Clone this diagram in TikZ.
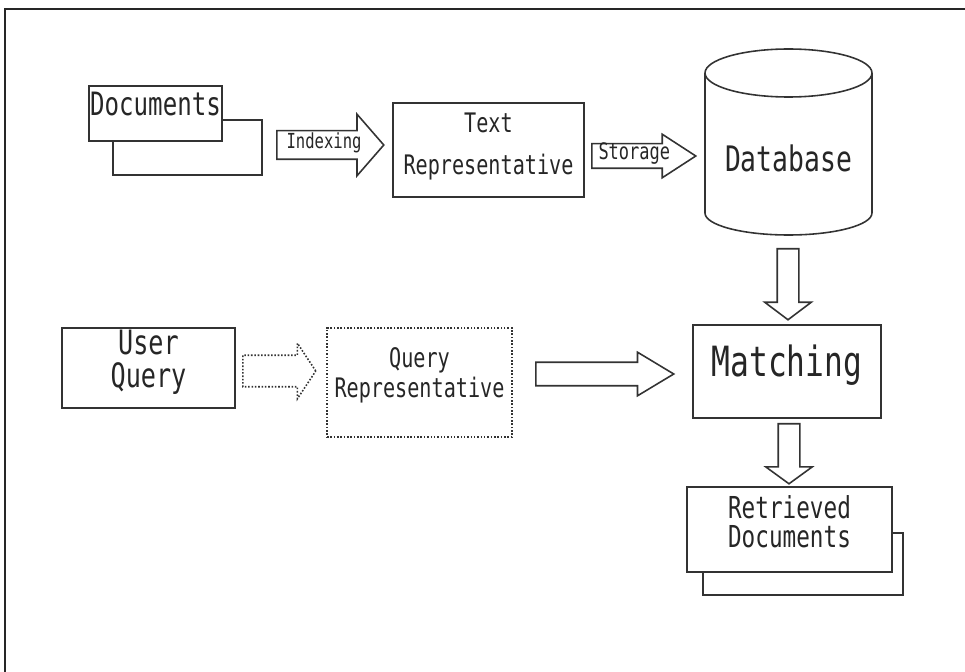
\documentclass[tikz,border=0pt]{standalone}
\usepackage{fontspec}
\newfontfamily\plotfont[FakeStretch=0.75]{DejaVu Sans Mono}
\usetikzlibrary{shapes.arrows}

\begin{document}
\begin{tikzpicture}[x=0.02cm,y=-0.02cm,line width=0.9pt,
  box/.style={draw=black!80,fill=white,rectangle,inner sep=0pt,text=black!85,align=center},
  blockarrow/.style={draw=black!80,fill=white,single arrow,inner xsep=0pt,text=black!85}]
\useasboundingbox (0,0) rectangle (965,672);
\draw[black!85,line width=1.1pt] (5,672)--(5,9)--(965,9);

 % top row
 \node[box,minimum width=2.98cm,minimum height=1.1cm] (docsback) at (187.5,147.5) {};
 \node[box,minimum width=2.66cm,minimum height=1.1cm,text depth=0.4cm,font=\plotfont\fontsize{18.3}{20}\selectfont] (docs) at (155.5,113.5) {Documents};
 \node[blockarrow,anchor=tail,minimum height=2.14cm,single arrow head extend=0.33cm,single arrow tip angle=98,inner xsep=1pt,inner ysep=0.135cm,text height=0.2cm,text depth=0.07cm,font=\plotfont\fontsize{11.8}{12}\selectfont] (indexing) at (276,145) {Indexing};
 \node[box,minimum width=3.82cm,minimum height=1.88cm,font=\plotfont\fontsize{15.3}{23.8}\selectfont] (textrep) at (488.5,150) {Text\\Representative\rule[-0.25cm]{0pt}{0pt}};
 \node[blockarrow,anchor=tail,minimum height=2.08cm,single arrow head extend=0.19cm,single arrow tip angle=66,inner xsep=1pt,inner ysep=0.095cm,text height=0.2cm,text depth=0.07cm,font=\plotfont\fontsize{12.9}{13}\selectfont] (storage) at (591,156) {Storage};

 % database
 \draw[black!80] (705,73)--(705,213) arc[start angle=180,end angle=360,x radius=1.67cm,y radius=0.44cm]--(872,73);
 \draw[black!80] (788.5,73) ellipse [x radius=1.67cm,y radius=0.48cm];
 \node[text=black!85,font=\plotfont\fontsize{20}{22}\selectfont] (db) at (788.5,158) {Database};

 % right column
 \node[blockarrow,anchor=tail,rotate=-90,minimum height=1.42cm,single arrow head extend=0.25cm,single arrow tip angle=106,inner ysep=0.2cm] (dbdown) at (788,248) {};
 \node[box,minimum width=3.76cm,minimum height=1.86cm,text depth=0.43cm,font=\plotfont\fontsize{23.7}{26}\selectfont] (match) at (787,371.5) {Matching};
 \node[blockarrow,anchor=tail,rotate=-90,minimum height=1.2cm,single arrow head extend=0.25cm,single arrow tip angle=108,inner ysep=0.2cm] (matchdown) at (789,423) {};
 \node[box,minimum width=4.0cm,minimum height=1.24cm] (retrback) at (803,564) {};
 \node[box,minimum width=4.1cm,minimum height=1.7cm,font=\plotfont\fontsize{17.2}{16.4}\selectfont] (retr) at (789.5,529.5) {Retrieved\\Documents\rule[-0.32cm]{0pt}{0pt}};

 % query row
 \node[box,minimum width=3.46cm,minimum height=1.6cm,font=\plotfont\fontsize{19.1}{18.7}\selectfont] (user) at (148.5,368) {User\\Query\rule[-0.36cm]{0pt}{0pt}};
 \node[blockarrow,densely dotted,anchor=tail,minimum height=1.46cm,single arrow head extend=0.24cm,single arrow tip angle=113,inner ysep=0.3cm] (userarrow) at (242,371) {};
 \node[box,densely dotted,minimum width=3.7cm,minimum height=2.18cm,font=\plotfont\fontsize{15.3}{17}\selectfont] (queryrep) at (419.5,382.5) {Query\\Representative\rule[-0.4cm]{0pt}{0pt}};
 \node[blockarrow,anchor=tail,minimum height=2.76cm,single arrow head extend=0.2cm,single arrow tip angle=62,inner ysep=0.22cm] (queryarrow) at (535,374) {};

\end{tikzpicture}
\end{document}
